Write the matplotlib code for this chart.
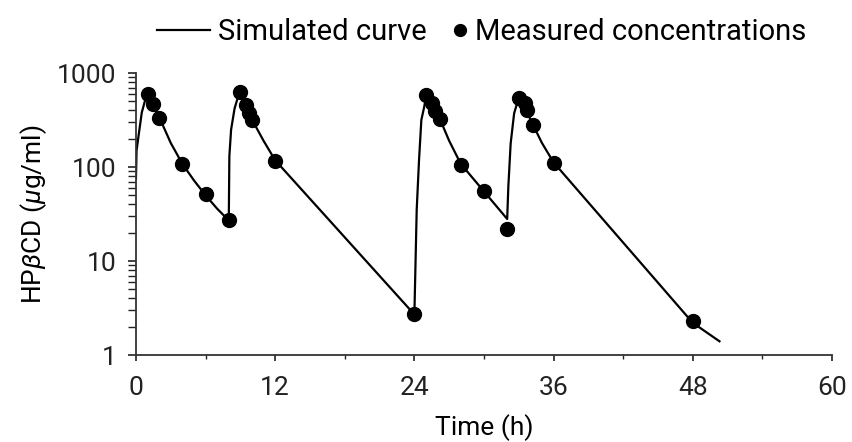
import numpy as np
import matplotlib.pyplot as plt
from matplotlib.ticker import LogLocator, NullFormatter, FixedLocator

# simulated curve
sim_t = [0, 0.05, 0.2, 0.5, 0.8, 1.0, 1.5, 2, 3, 4, 5, 6, 7, 8,
         8.05, 8.2, 8.5, 8.8, 9.0, 9.5, 10, 11, 12, 24,
         24.2, 24.4, 24.6, 24.85, 25.0, 25.5, 26, 27, 28, 30, 32,
         32.1, 32.3, 32.6, 32.9, 33.0, 33.5, 34, 35, 36, 48, 50.3]
sim_c = [75, 150, 205, 380, 520, 560, 450, 340, 180, 108, 72, 50, 36, 27,
         130, 250, 420, 560, 600, 450, 320, 190, 118, 2.7,
         35, 118, 316, 438, 570, 470, 370, 190, 108, 55, 28,
         62, 178, 373, 496, 550, 470, 320, 180, 112, 2.2, 1.4]

# measured concentrations
meas_t = [1, 1.5, 2, 4, 6, 8, 9, 9.5, 9.75, 10, 12, 24,
          25, 25.5, 25.75, 26.25, 28, 30, 32, 33, 33.5, 33.75, 34.25, 36, 48]
meas_c = [600, 470, 330, 108, 52, 27, 630, 457, 372, 316, 116, 2.7,
          585, 476, 390, 324, 105, 56, 22, 540, 476, 404, 280, 110, 2.3]

plt.rcParams['font.family'] = ['Roboto', 'DejaVu Sans']
plt.rcParams['mathtext.fontset'] = 'custom'
plt.rcParams['mathtext.rm'] = 'Roboto'
plt.rcParams['mathtext.it'] = 'Roboto:italic'

fig = plt.figure(figsize=(8.52, 4.42), dpi=100)
ax = fig.add_axes([0.1596, 0.1968, 0.8169, 0.638])

l1, = ax.plot(sim_t, sim_c, 'k-', lw=1.6, label='Simulated curve')
l2, = ax.plot(meas_t, meas_c, 'ko', ms=10, ls='none', label='Measured concentrations', clip_on=False)

ax.set_yscale('log')
ax.set_xlim(0, 60)
ax.set_ylim(1, 1000)
ax.set_xticks([0, 12, 24, 36, 48, 60])
ax.xaxis.set_minor_locator(FixedLocator([6, 18, 30, 42, 54]))
ax.set_yticks([1, 10, 100, 1000])
ax.set_yticklabels(['1', '10', '100', '1000'])
ax.yaxis.set_minor_locator(LogLocator(base=10, subs=np.arange(2, 10)))
ax.yaxis.set_minor_formatter(NullFormatter())

for s in ['top', 'right']:
    ax.spines[s].set_visible(False)
for s in ['left', 'bottom']:
    ax.spines[s].set_linewidth(1.3)
    ax.spines[s].set_color('#333333')

ax.tick_params(which='both', direction='out', colors='#222222')
ax.tick_params(axis='y', which='major', length=6, width=1.2, labelsize=19, pad=8)
ax.tick_params(axis='y', which='minor', length=5.5, width=1.0)
ax.tick_params(axis='x', which='major', length=4, width=1.2, labelsize=19, pad=11)
ax.tick_params(axis='x', which='minor', length=3, width=1.0)

ax.set_xlabel('Time (h)', fontsize=19, labelpad=10)
ax.set_ylabel(r'HP$\beta$CD ($\mu$g/ml)', fontsize=19, labelpad=6)

leg1 = fig.legend(handles=[l1], loc='center left', bbox_to_anchor=(0.1843, 0.9276),
                  frameon=False, fontsize=21, borderpad=0, borderaxespad=0,
                  handlelength=1.8, handletextpad=0.3)
leg2 = fig.legend(handles=[l2], loc='center left', bbox_to_anchor=(0.5317, 0.9276),
                  frameon=False, fontsize=21, borderpad=0, borderaxespad=0,
                  handlelength=0.5, handletextpad=0.27, markerscale=0.85)

plt.savefig('out.png', dpi=100)
